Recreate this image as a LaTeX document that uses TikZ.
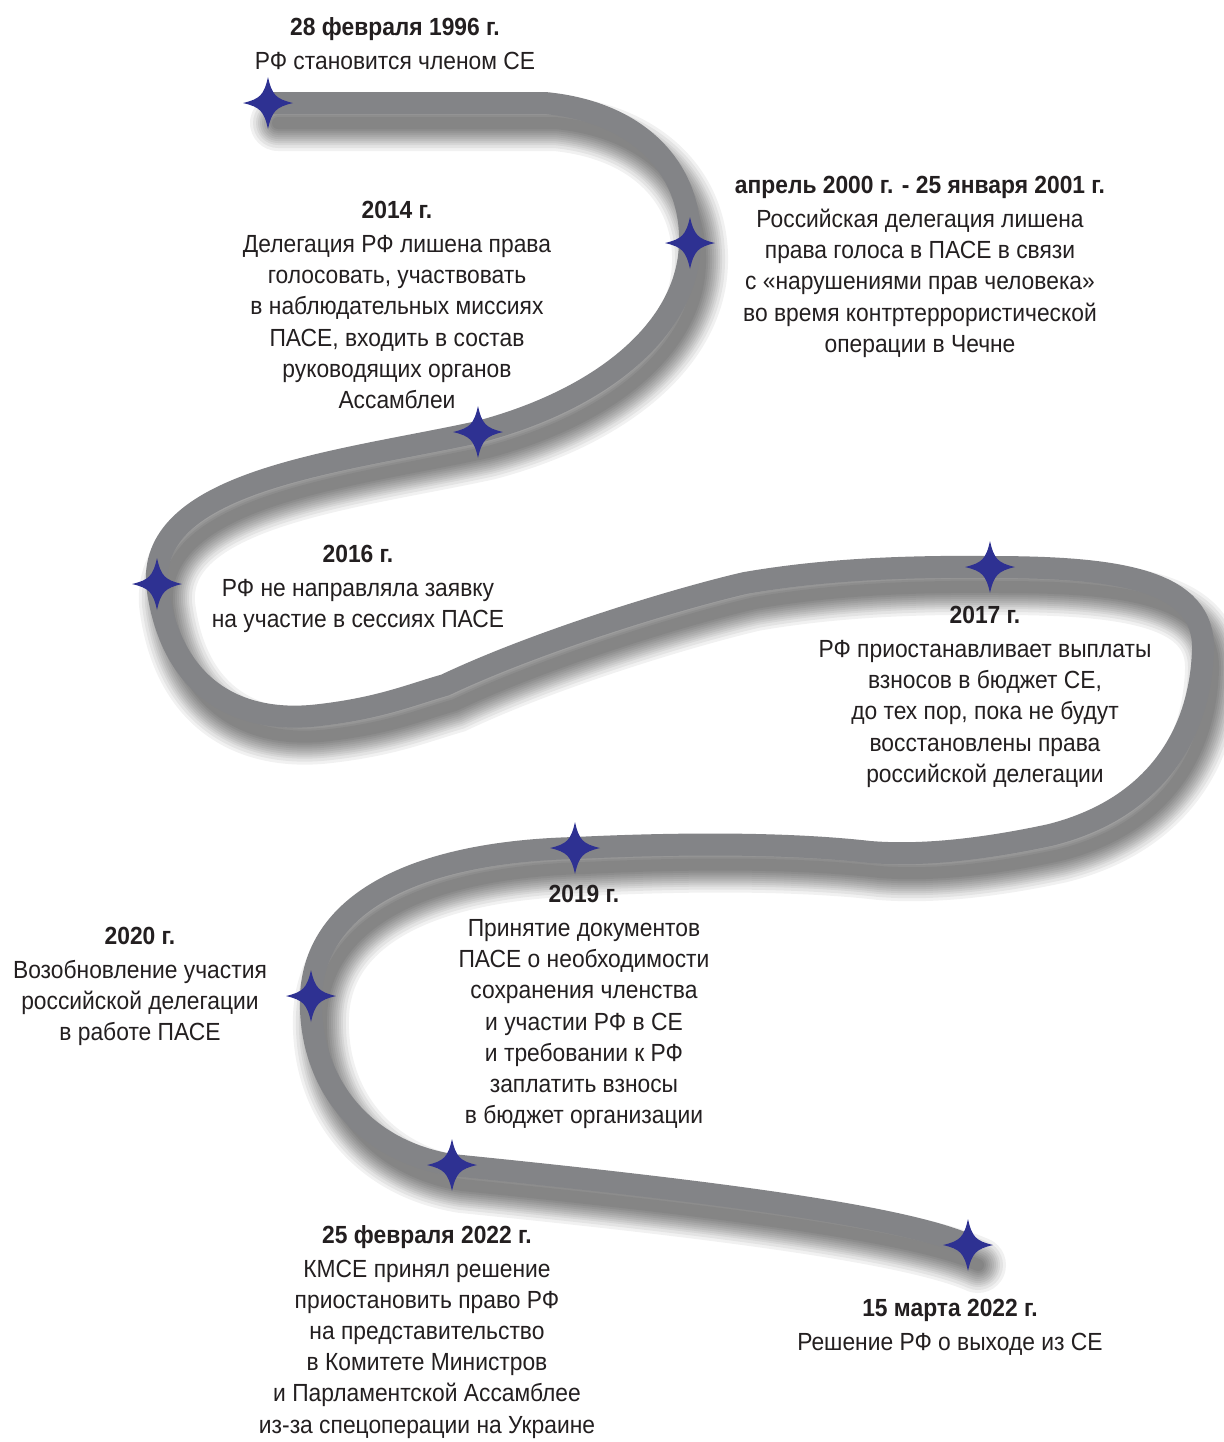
\documentclass[tikz,border=0pt]{standalone}
\usepackage{fontspec}
\setmainfont{Liberation Sans}[FakeStretch=0.92]
\definecolor{road}{HTML}{838487}
\definecolor{starblue}{HTML}{2E3192}
\definecolor{ink}{HTML}{231F20}
\begin{document}
\begin{tikzpicture}[x=0.5pt,y=-0.5pt,
  lbl/.style={anchor=north, align=center, inner sep=0pt, text=ink,
    font=\fontsize{12.4}{15.6}\selectfont},
  roadline/.style={draw=road, line width=11pt},
  shadowline/.style={draw=black, line cap=round, transform canvas={shift={(5pt,-10pt)}}},
  starmark/.pic={\fill[starblue] (0,-26) .. controls (4,-8) and (8,-4) .. (25,0)
      .. controls (8,4) and (4,8) .. (0,26) .. controls (-4,8) and (-8,4) .. (-25,0)
      .. controls (-8,-4) and (-4,-8) .. cycle;}
]
\fill[white] (0,0) rectangle (1224,1442);
\useasboundingbox (0,0) rectangle (1224,1442);

\coordinate (s1) at (268,103);
\coordinate (a1) at (545,103);
\coordinate (s2) at (690,243);
\coordinate (s3) at (478,432);
\coordinate (s4) at (157,584);
\coordinate (a2) at (320,715);
\coordinate (a3) at (445,685);
\coordinate (a4) at (745,583);
\coordinate (s5) at (990,567);
\coordinate (a5) at (1203,650);
\coordinate (a6) at (1050,835);
\coordinate (a7) at (870,852);
\coordinate (s6) at (575,848);
\coordinate (s7) at (311,996);
\coordinate (s8) at (452,1165);
\coordinate (s9) at (968,1245);

\def\roadpath{(s1) -- (a1) .. controls (640,112) and (692,170) .. (s2)
  .. controls (688,330) and (600,400) .. (s3)
  .. controls (340,462) and (150,480) .. (s4)
  .. controls (170,690) and (240,725) .. (a2)
  .. controls (380,708) and (410,695) .. (a3)
  .. controls (540,640) and (680,598) .. (a4)
  .. controls (820,570) and (900,566) .. (s5)
  .. controls (1120,567) and (1205,580) .. (a5)
  .. controls (1200,740) and (1150,810) .. (a6)
  .. controls (980,850) and (920,856) .. (a7)
  .. controls (800,844) and (700,842) .. (s6)
  .. controls (420,852) and (315,900) .. (s7)
  .. controls (308,1080) and (360,1150) .. (s8)
  .. controls (700,1190) and (900,1215) .. (s9)}

\foreach \w in {28pt,25pt,22pt,20pt,18pt,16pt,14pt,12pt,10pt,8pt,6pt}{
  \draw[shadowline, line width=\w, opacity=0.055] \roadpath;
}
\draw[roadline] \roadpath;

\foreach \s in {s1,s2,s3,s4,s5,s6,s7,s8,s9}{
  \pic at (\s) {starmark};
}

\node[lbl] (t1) at (395,17) {\textbf{28 февраля 1996 г.}\\[1.3pt]РФ становится членом СЕ};
\node[lbl] (t2) at (397,201) {\textbf{2014 г.}\\[1.3pt]Делегация РФ лишена права\\голосовать, участвовать\\в наблюдательных миссиях\\ПАСЕ, входить в состав\\руководящих органов\\Ассамблеи};
\node[lbl] (t3) at (920,176) {\textbf{апрель 2000 г. - 25 января 2001 г.}\\[1.3pt]Российская делегация лишена\\права голоса в ПАСЕ в связи\\с «нарушениями прав человека»\\во время контртеррористической\\операции в Чечне};
\node[lbl] (t4) at (358,545) {\textbf{2016 г.}\\[1.3pt]РФ не направляла заявку\\на участие в сессиях ПАСЕ};
\node[lbl] (t5) at (985,606) {\textbf{2017 г.}\\[1.3pt]РФ приостанавливает выплаты\\взносов в бюджет СЕ,\\до тех пор, пока не будут\\восстановлены права\\российской делегации};
\node[lbl] (t6) at (584,885) {\textbf{2019 г.}\\[1.3pt]Принятие документов\\ПАСЕ о необходимости\\сохранения членства\\и участии РФ в СЕ\\и требовании к РФ\\заплатить взносы\\в бюджет организации};
\node[lbl] (t7) at (140,927) {\textbf{2020 г.}\\[1.3pt]Возобновление участия\\российской делегации\\в работе ПАСЕ};
\node[lbl] (t8) at (427,1225) {\textbf{25 февраля 2022 г.}\\[1.3pt]КМСЕ принял решение\\приостановить право РФ\\на представительство\\в Комитете Министров\\и Парламентской Ассамблее\\из-за спецоперации на Украине};
\node[lbl] (t9) at (950,1299) {\textbf{15 марта 2022 г.}\\[1.3pt]Решение РФ о выходе из СЕ};
\end{tikzpicture}
\end{document}
